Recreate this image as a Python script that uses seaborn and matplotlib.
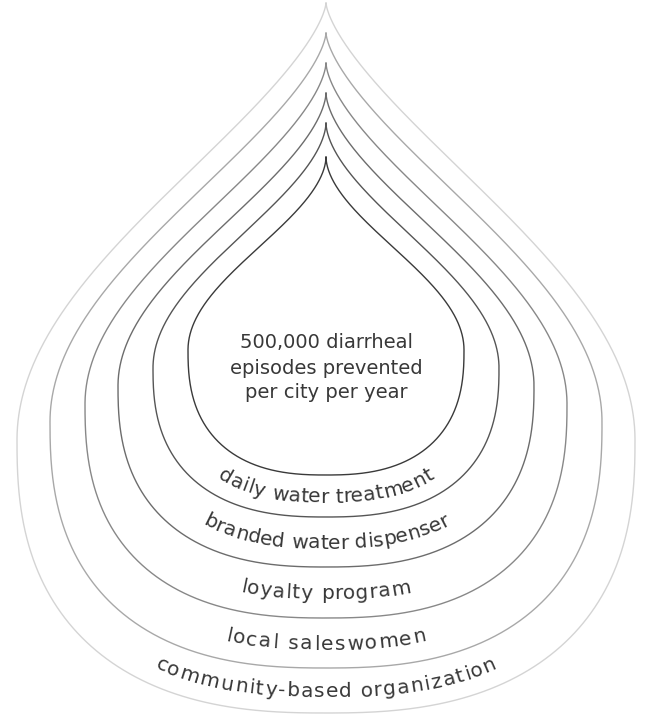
import numpy as np
import pandas as pd
import seaborn as sns
import matplotlib.pyplot as plt
from matplotlib.font_manager import FontProperties

# %%
# layers of the water drop, inside out
layers = ["daily water treatment", "branded water dispenser", "loyalty program",
          "local saleswomen", "community-based organization"]
center_lines = ["500,000 diarrheal", "episodes prevented", "per city per year"]

# drop outlines, innermost first (pixel units)
tip_y = [157, 123, 93, 63, 33, 3]
belly_y = [350, 368, 386, 404, 422, 440]
bottom_y = [475, 517, 567, 618, 668, 713]
half_width = [138, 173, 208, 241, 276, 309]
top_power = [1.8, 1.72, 1.65, 1.58, 1.5, 1.45]
line_colors = ["#3a3a3a", "#555555", "#6c6c6c", "#888888", "#a8a8a8", "#d4d4d4"]
center_x = 326
text_color = "#383838"

# arc length each curved label covers
label_arc = [220, 250, 170, 200, 345]


def drop_sides(i, num=300, n=2.5):
    # top part: width grows from the tip to the belly
    s = np.linspace(0, 1, num)
    y_top = tip_y[i] + s * (belly_y[i] - tip_y[i])
    w_top = half_width[i] * np.sin(np.pi * s / 2) ** top_power[i]
    # bulb: superellipse from the belly to the bottom
    th = np.linspace(0, np.pi / 2, num)[1:]
    h = bottom_y[i] - belly_y[i]
    y_bot = belly_y[i] + h * np.sin(th) ** (2 / n)
    w_bot = half_width[i] * np.cos(th) ** (2 / n)
    return np.concatenate([y_top, y_bot]), np.concatenate([w_top, w_bot])


def bulb(i, th, n=2.5):
    h = bottom_y[i] - belly_y[i]
    return half_width[i] * np.cos(th) ** (2 / n), belly_y[i] + h * np.sin(th) ** (2 / n)


# %%
sns.set_theme(style="white")
fig = plt.figure(figsize=(6.49, 7.2), dpi=100)
ax = fig.add_axes([0, 0, 1, 1])

for i in range(len(tip_y)):
    y, w = drop_sides(i)
    xs = np.concatenate([center_x - w, (center_x + w)[::-1]])
    ys = np.concatenate([y, y[::-1]])
    df = pd.DataFrame({"x": xs, "y": ys})
    sns.lineplot(data=df, x="x", y="y", sort=False, estimator=None,
                 color=line_colors[i], lw=1.0, ax=ax)

ax.set_xlim(0, 649)
ax.set_ylim(720, 0)
ax.axis("off")

font = ["DejaVu Sans"]
for line, yy in zip(center_lines, [342, 368, 393]):
    ax.text(center_x, yy, line, ha="center", va="center", fontsize=14,
            color=text_color, family=font)

# %%
# curved labels along the bottom of each band
renderer = fig.canvas.get_renderer()
fs = 14.5
fp = FontProperties(family=font, size=fs)


def text_w(s):
    return renderer.get_text_width_height_descent(s, fp, ismath=False)[0]


base = text_w("xx")
for k, label in enumerate(layers):
    # midline between drop k and k+1, left to right through the bottom
    th = np.linspace(0.0, np.pi / 2, 1000)
    wa, ya = bulb(k, th)
    wb, yb = bulb(k + 1, th)
    xl = center_x - (wa + wb) / 2
    yl = (ya + yb) / 2
    px = np.concatenate([xl, (2 * center_x - xl)[::-1][1:]])
    py = np.concatenate([yl, yl[::-1][1:]])
    seg = np.hypot(np.diff(px), np.diff(py))
    arc = np.concatenate([[0], np.cumsum(seg)])
    mid = arc[len(xl) - 1]

    adv = np.array([text_w("x" + c + "x") - base for c in label])
    track = max((label_arc[k] - adv.sum()) / (len(label) - 1), 0)
    adv = adv + track
    total = adv.sum() - track
    pos = np.cumsum(np.concatenate([[0], adv[:-1]])) + (adv - track) / 2 - total / 2 + mid
    off = 0.33 * fs * 100 / 72
    for c, s in zip(label, pos):
        x0 = np.interp(s, arc, px)
        y0 = np.interp(s, arc, py)
        dx = np.interp(s + 1, arc, px) - np.interp(s - 1, arc, px)
        dy = np.interp(s + 1, arc, py) - np.interp(s - 1, arc, py)
        nrm = np.hypot(dx, dy)
        tx, ty = dx / nrm, dy / nrm
        bx, by = x0 - ty * off, y0 + tx * off
        ang = np.degrees(np.arctan2(-dy, dx))
        ax.text(bx, by, c, ha="center", va="baseline", rotation=ang,
                rotation_mode="anchor", fontsize=fs, color=text_color, family=font)

fig.savefig("out.png", dpi=100, facecolor="white")
